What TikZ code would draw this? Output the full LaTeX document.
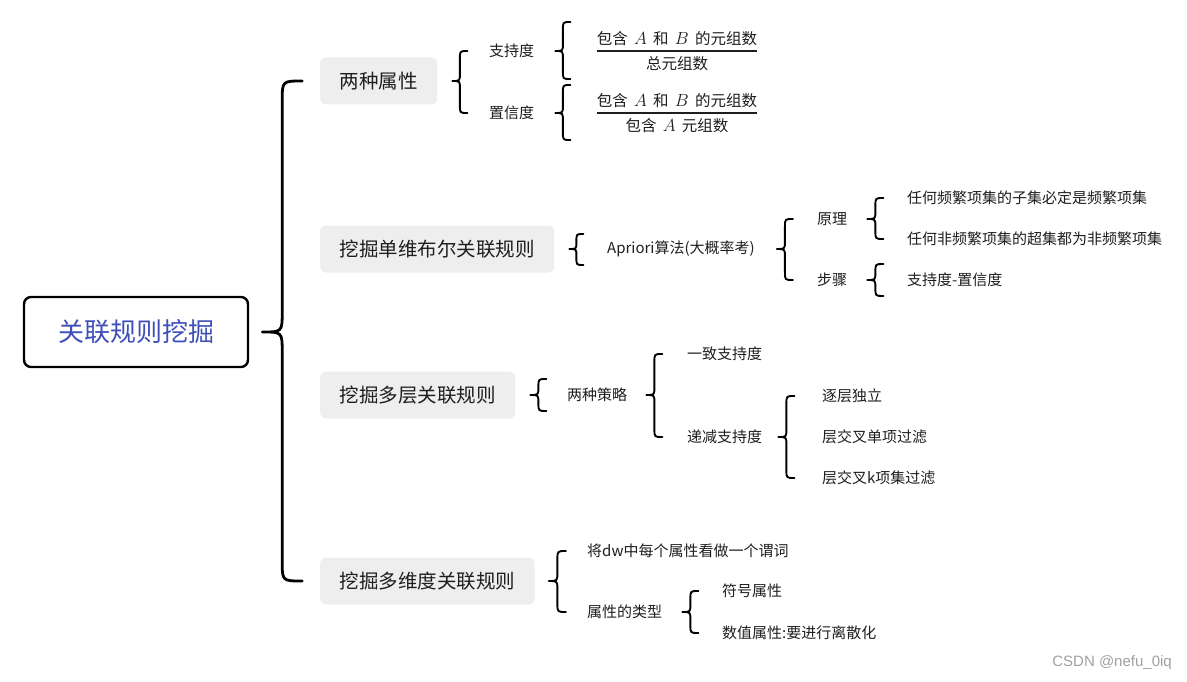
\RequirePackage{fix-cm}
\documentclass[tikz,border=0pt]{standalone}
\usepackage{amsmath}
\usepackage{fontspec}
\setmainfont{Noto Sans CJK SC}
\newfontfamily\wmfont{Liberation Sans}
\usetikzlibrary{calc}

\definecolor{genlan}{HTML}{3F4FB8}
\definecolor{kuanghui}{HTML}{EEEEEE}
\definecolor{zihei}{HTML}{1E1E1E}
\definecolor{shuiyinhui}{HTML}{A0A0A0}

% curly brace: tip, top end, bottom end, width
\newcommand{\kuohao}[5][kuo]{%
  \draw[#1] let \p1=(#2), \p2=(#3), \p3=(#4) in
    (\x1+#5,\y2) .. controls (\x1+0.5*#5,\y2) .. (\x1+0.5*#5,\y2-0.5*#5)
    -- (\x1+0.5*#5,\y1+0.5*#5) .. controls (\x1+0.5*#5,\y1) .. (\x1,\y1)
    .. controls (\x1+0.5*#5,\y1) .. (\x1+0.5*#5,\y1-0.5*#5)
    -- (\x1+0.5*#5,\y3+0.5*#5) .. controls (\x1+0.5*#5,\y3) .. (\x1+#5,\y3);
}
\newcommand{\kg}{\hspace{0.4em}}
\newcommand{\zm}[1]{\mbox{\fontsize{17.5}{20}\selectfont$#1$}}

\begin{document}
\begin{tikzpicture}[
        x=1pt, y=-1pt,
        gen/.style={shape=rectangle, draw=black, line width=2.4pt, rounded corners=7pt,
            minimum width=224pt, minimum height=70pt, text=genlan,
            font=\fontsize{26}{30}\selectfont},
        zhuti/.style={shape=rectangle, fill=kuanghui, rounded corners=6pt, anchor=west,
            minimum height=47pt, inner xsep=19.5pt, text=zihei,
            font=\fontsize{19.5}{23}\selectfont},
        ye/.style={anchor=west, inner sep=0pt, text=zihei, font=\fontsize{15}{18}\selectfont},
        gongshi/.style={inner sep=0pt, text=zihei, font=\fontsize{15.5}{18}\selectfont},
        kuo/.style={line width=1.9pt, line cap=round, line join=round},
        dakuo/.style={line width=2.8pt, line cap=round, line join=round},
        shuiyin/.style={anchor=east, inner sep=0pt, text=shuiyinhui, font=\wmfont\fontsize{15}{18}\selectfont},
    ]
    \useasboundingbox (0,0) rectangle (1187,682);

    \node[gen] (gen) at (136,332) {关联规则挖掘};

    \node[zhuti] (sx) at (320,81) {两种属性};
    \node[zhuti] (dw) at (320,249) {挖掘单维布尔关联规则};
    \node[zhuti] (dc) at (320,395) {挖掘多层关联规则};
    \node[zhuti] (wd) at (320,581) {挖掘多维度关联规则};

    \node[ye] (zcd) at (489,51) {支持度};
    \node[ye] (zxd) at (489,113) {置信度};
    \node[gongshi] (fs1) at (677,51)
        {$\genfrac{}{}{1.6pt}{0}{\mbox{包含\kg}\zm{A}\mbox{\kg 和\kg}\zm{B}\mbox{\kg 的元组数}}{\mbox{总元组数}}$};
    \node[gongshi] (fs2) at (677,113)
        {$\genfrac{}{}{1.6pt}{0}{\mbox{包含\kg}\zm{A}\mbox{\kg 和\kg}\zm{B}\mbox{\kg 的元组数}}{\mbox{包含\kg}\zm{A}\mbox{\kg 元组数}}$};

    \node[ye] (ap) at (607,249) {Apriori算法(大概率考)};
    \node[ye] (yl) at (817,219) {原理};
    \node[ye] (bz) at (817,280) {步骤};
    \node[ye] (yl1) at (907,198) {任何频繁项集的子集必定是频繁项集};
    \node[ye] (yl2) at (907,239) {任何非频繁项集的超集都为非频繁项集};
    \node[ye] (bz1) at (907,280) {支持度-置信度};

    \node[ye] (cl) at (567,395) {两种策略};
    \node[ye] (yz) at (687,354) {一致支持度};
    \node[ye] (dj) at (687,437) {递减支持度};
    \node[ye] (dj1) at (822,396) {逐层独立};
    \node[ye] (dj2) at (822,437) {层交叉单项过滤};
    \node[ye] (dj3) at (822,478) {层交叉k项集过滤};

    \node[ye] (wc) at (587,551) {将dw中每个属性看做一个谓词};
    \node[ye] (lx) at (587,612) {属性的类型};
    \node[ye] (lx1) at (722,591) {符号属性};
    \node[ye] (lx2) at (722,633) {数值属性:要进行离散化};

    \node[shuiyin] (sy) at (1172,663) {CSDN @nefu\_0iq};

    \kuohao[dakuo]{$(gen.east)+(13,0)$}{sx}{wd}{40pt}
    \kuohao{$(sx.east)+(15,0)$}{zcd}{zxd}{15pt}
    \kuohao{$(zcd.east)+(21,0)$}{$(zcd)+(0,-29)$}{$(zcd)+(0,28)$}{15pt}
    \kuohao{$(zxd.east)+(21,0)$}{$(zxd)+(0,-28)$}{$(zxd)+(0,27)$}{15pt}
    \kuohao{$(dw.east)+(15,0)$}{$(ap)+(0,-15)$}{$(ap)+(0,16)$}{14pt}
    \kuohao{$(ap.east)+(22,0)$}{yl}{bz}{16pt}
    \kuohao{$(yl.east)+(20,0)$}{yl1}{yl2}{16pt}
    \kuohao{$(bz.east)+(20,0)$}{$(bz1)+(0,-16)$}{$(bz1)+(0,16)$}{16pt}
    \kuohao{$(dc.east)+(15,0)$}{$(cl)+(0,-16)$}{$(cl)+(0,16)$}{16pt}
    \kuohao{$(cl.east)+(19,0)$}{yz}{dj}{16pt}
    \kuohao{$(dj.east)+(16,0)$}{dj1}{dj3}{16pt}
    \kuohao{$(wd.east)+(14,0)$}{wc}{lx}{17pt}
    \kuohao{$(lx.east)+(20,0)$}{lx1}{lx2}{16pt}

\end{tikzpicture}
\end{document}
